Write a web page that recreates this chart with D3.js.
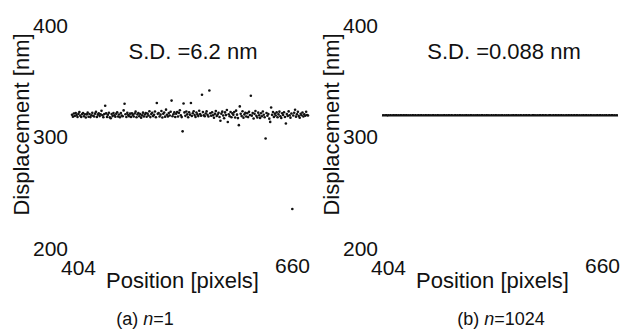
<!DOCTYPE html>
<html>
<head>
<meta charset="utf-8">
<script src="https://cdn.jsdelivr.net/npm/d3@7"></script>
<style>
  html, body { margin: 0; padding: 0; background: #fff; }
  svg { display: block; font-family: Arial, "Liberation Sans", Helvetica, sans-serif; }
</style>
</head>
<body>
<svg id="chart" width="623" height="336"></svg>
<script>
// Pixel positions along the line profile
const positionStart = 404;
const positionEnd = 660;
const yTicks = [200, 300, 400];
const xTicks = [404, 660];

// Single-frame displacement (n = 1), one value per pixel 404..660
const displacementSingle = [
  319.5, 317.8, 320.6, 318.4, 321.0, 319.2, 317.6, 320.3, 322.0, 318.7, 317.5, 320.1, 321.1, 318.2, 319.9, 317.0,
  319.8, 321.4, 317.7, 320.2, 317.4, 319.0, 321.2, 318.6, 317.9, 320.5, 322.1, 317.5, 319.6, 320.8, 318.3, 320.0,
  323.0, 319.0, 317.3, 320.1, 327.6, 320.7, 317.6, 319.5, 321.3, 317.2, 316.4, 320.2, 318.3, 321.0, 319.0, 317.8,
  320.4, 321.8, 317.9, 319.7, 317.3, 321.0, 318.8, 318.1, 323.4, 329.4, 320.0, 317.5, 321.2, 319.3, 318.2, 320.5,
  317.6, 320.9, 319.4, 317.9, 320.6, 322.3, 317.2, 319.8, 321.1, 318.1, 320.2, 316.9, 319.0, 321.4, 318.0, 319.7,
  321.0, 317.7, 320.5, 318.8, 322.6, 317.4, 320.1, 321.3, 318.3, 319.4, 322.4, 317.3, 330.1, 320.3, 321.1, 317.9,
  319.6, 322.9, 317.1, 320.4, 321.5, 317.8, 324.1, 319.5, 318.0, 321.0, 318.9, 322.2, 332.2, 318.2, 319.9, 321.6,
  317.5, 320.4, 322.0, 317.9, 321.2, 323.5, 319.0, 317.4, 304.6, 329.6, 321.6, 318.5, 322.4, 319.8, 317.3, 321.8,
  319.6, 330.0, 318.4, 320.9, 322.7, 319.2, 317.6, 321.5, 319.8, 318.3, 323.1, 320.2, 318.7, 337.5, 321.9, 319.0,
  318.2, 320.6, 322.5, 319.4, 317.9, 341.2, 320.8, 318.6, 321.7, 319.1, 316.8, 320.3, 322.8, 318.4, 319.7, 321.2,
  317.5, 314.1, 320.5, 322.3, 318.9, 316.4, 321.6, 319.2, 323.8, 313.0, 320.0, 318.1, 322.0, 317.3, 320.7, 319.4,
  321.9, 317.0, 323.2, 319.6, 316.5, 310.2, 327.0, 320.4, 318.3, 322.6, 316.9, 319.8, 321.3, 318.0, 320.9, 317.4,
  322.1, 319.3, 336.6, 318.7, 321.0, 316.2, 320.3, 322.9, 318.5, 317.1, 321.4, 319.0, 316.7, 320.8, 318.2, 322.4,
  319.5, 317.3, 298.2, 321.1, 318.6, 320.2, 316.0, 313.1, 326.0, 319.4, 322.0, 317.6, 320.5, 318.9, 321.6, 317.2,
  319.8, 322.3, 318.1, 316.6, 320.9, 319.3, 321.8, 317.5, 311.7, 320.1, 318.4, 322.5, 319.0, 316.9, 320.6, 235.0,
  318.8, 321.3, 324.0, 317.8, 319.9, 322.1, 318.3, 316.8, 320.4, 319.1, 321.5, 317.9, 320.0, 318.6, 322.2, 319.3,
  318.9
];

// Averaged displacement (n = 1024), one value per pixel 404..660
const displacementAveraged = [
  319.02, 318.95, 319.08, 318.97, 319.11, 319.04, 318.91, 319.06, 318.99, 319.13, 319.01, 318.93, 319.07, 319.10, 318.96, 319.03,
  319.05, 318.98, 319.12, 318.94, 319.02, 319.09, 318.97, 319.04, 319.00, 318.92, 319.06, 319.11, 318.99, 319.03, 318.96, 319.08,
  318.98, 319.04, 319.01, 318.95, 319.07, 319.00, 318.97, 319.05, 319.02, 318.94, 319.03, 319.06, 318.99, 319.01, 318.96, 319.04,
  319.00, 318.97, 319.03, 319.05, 318.98, 319.01, 318.95, 319.02, 319.06, 318.99, 319.00, 318.96, 319.04, 319.02, 318.97, 319.01,
  318.99, 319.03, 318.96, 319.00, 319.05, 318.98, 319.02, 318.94, 319.01, 319.04, 318.97, 319.00, 319.03, 318.99, 318.95, 319.02,
  319.04, 318.98, 319.01, 318.96, 319.03, 319.00, 318.93, 319.05, 318.99, 319.02, 318.97, 319.01, 319.06, 318.98, 319.00, 318.95,
  319.03, 319.01, 318.97, 319.04, 318.99, 319.02, 318.96, 319.00, 319.05, 318.98, 319.01, 318.94, 319.03, 319.00, 318.97, 319.02,
  318.99, 319.04, 319.01, 318.96, 319.03, 318.98, 319.00, 319.06, 318.97, 319.02, 318.95, 319.01, 319.04, 318.99, 319.00, 318.96,
  319.02, 318.98, 319.05, 319.00, 318.97, 319.03, 318.99, 319.01, 318.94, 319.04, 319.00, 318.98, 319.02, 318.96, 319.03, 319.01,
  318.97, 319.00, 319.04, 318.99, 319.02, 318.95, 319.01, 319.03, 318.98, 319.00, 319.05, 318.97, 319.02, 319.00, 318.96, 319.03,
  319.01, 318.99, 318.96, 319.04, 319.00, 319.02, 318.97, 319.05, 318.99, 319.01, 318.94, 319.03, 319.00, 318.98, 319.02, 319.04,
  318.97, 319.01, 319.03, 318.99, 318.95, 319.02, 319.00, 319.04, 318.98, 319.01, 319.06, 318.97, 319.00, 319.03, 318.96, 319.02,
  319.00, 318.98, 319.04, 319.01, 318.97, 319.03, 318.99, 319.00, 319.05, 318.96, 319.02, 319.01, 318.98, 319.04, 319.00, 318.97,
  319.03, 319.01, 318.95, 319.02, 319.00, 318.98, 319.06, 318.99, 319.01, 318.97, 319.03, 319.00, 318.96, 319.04, 319.02, 318.99,
  319.01, 318.97, 319.03, 319.00, 318.98, 319.05, 318.99, 319.02, 318.96, 319.01, 319.04, 318.98, 319.00, 319.03, 318.97, 319.01,
  318.99, 319.02, 318.96, 319.04, 319.00, 318.98, 319.03, 319.01, 318.95, 319.02, 319.00, 318.97, 319.05, 318.99, 319.01, 318.96,
  319.03
];

const sdLabels = ["S.D. =6.2 nm", "S.D. =0.088 nm"];
const captionTags = ["(a) ", "(b) "];
const captionCounts = ["1", "1024"];

const svg = d3.select("#chart");

function drawPanel(offsetX, values, asLine, sdText, sdX, captionX, tag, count) {
  const g = svg.append("g").attr("transform", `translate(${offsetX},0)`);

  const x = d3.scaleLinear().domain([positionStart, positionEnd]).range([72, 308]);
  const y = d3.scaleLinear().domain([200, 400]).range([248, 25]);

  const pts = values.map((v, i) => ({ p: positionStart + i, v }));

  if (asLine) {
    g.append("path")
      .datum(pts)
      .attr("fill", "none")
      .attr("stroke", "#111")
      .attr("stroke-width", 2.4)
      .attr("d", d3.line().x(d => x(d.p)).y(d => y(d.v)));
  } else {
    g.selectAll("circle.pt")
      .data(pts)
      .join("circle")
      .attr("class", "pt")
      .attr("cx", d => x(d.p))
      .attr("cy", d => y(d.v))
      .attr("r", 1.3)
      .attr("fill", "#111");
  }

  // y tick labels (no axis line drawn)
  g.selectAll("text.ytick")
    .data(yTicks)
    .join("text")
    .attr("class", "ytick")
    .attr("x", 33)
    .attr("y", d => y(d))
    .attr("dy", "0.36em")
    .attr("font-size", 21)
    .attr("fill", "#111")
    .text(d => d);

  // x tick labels at the ends of the profile
  g.selectAll("text.xtick")
    .data(xTicks)
    .join("text")
    .attr("class", "xtick")
    .attr("x", d => x(d) + (d === positionStart ? 6.5 : -15.5))
    .attr("y", d => d === positionStart ? 274.5 : 272.5)
    .attr("text-anchor", "middle")
    .attr("font-size", 21)
    .attr("fill", "#111")
    .text(d => d);

  g.append("text")
    .attr("x", 182.5)
    .attr("y", 288)
    .attr("text-anchor", "middle")
    .attr("font-size", 22)
    .attr("fill", "#111")
    .text("Position [pixels]");

  g.append("text")
    .attr("transform", "translate(29,124.5) rotate(-90)")
    .attr("text-anchor", "middle")
    .attr("font-size", 22)
    .attr("fill", "#111")
    .text("Displacement [nm]");

  g.append("text")
    .attr("x", sdX)
    .attr("y", 59)
    .attr("text-anchor", "middle")
    .attr("font-size", 22)
    .attr("fill", "#111")
    .text(sdText);

  const cap = svg.append("text")
    .attr("x", captionX)
    .attr("y", 325)
    .attr("text-anchor", "middle")
    .attr("font-size", 18)
    .attr("fill", "#111");
  cap.append("tspan").text(tag);
  cap.append("tspan").attr("font-style", "italic").text("n");
  cap.append("tspan").text("=" + count);
}

drawPanel(0, displacementSingle, false, sdLabels[0], 193, 145, captionTags[0], captionCounts[0]);
drawPanel(310, displacementAveraged, true, sdLabels[1], 194, 501, captionTags[1], captionCounts[1]);
</script>
</body>
</html>
